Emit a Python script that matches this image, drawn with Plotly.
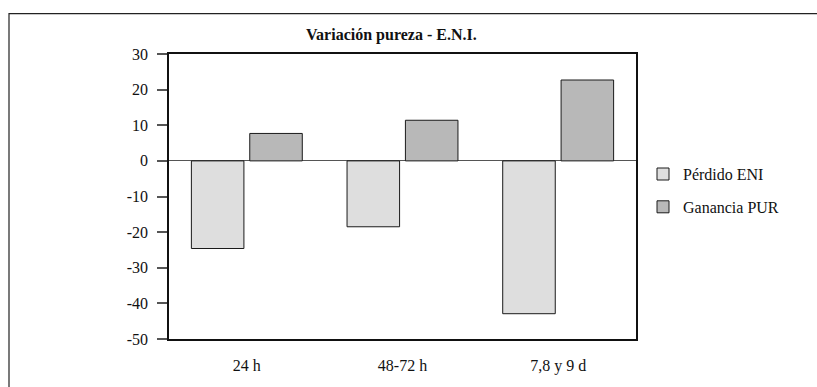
import plotly.graph_objects as go

categories = ["24 h", "48-72 h", "7,8 y 9 d"]
perdido_eni = [-24.6, -18.5, -42.9]
ganancia_pur = [7.7, 11.4, 22.7]
y_ticks = [30, 20, 10, 0, -10, -20, -30, -40, -50]
y_tick_labels = [str(v) for v in y_ticks]

FONT = "Liberation Serif"

fig = go.Figure()
fig.add_trace(go.Bar(
    x=categories, y=perdido_eni, name="Pérdido ENI",
    marker=dict(color="#DEDEDE", line=dict(color="#1a1a1a", width=1)),
    legendgroup="a",
))
fig.add_trace(go.Bar(
    x=categories, y=ganancia_pur, name="Ganancia PUR",
    marker=dict(color="#B8B8B8", line=dict(color="#1a1a1a", width=1)),
    legendgroup="b",
))

L, R, T, B = 169, 636, 54, 344
W, H = 817, 387
pw, ph = R - L, B - T

def px(X):
    return (X - L) / pw

def py(Y):
    return (B - Y) / ph

fig.update_layout(
    width=W, height=H,
    margin=dict(l=L, r=W - R, t=T, b=H - B, pad=0),
    paper_bgcolor="white", plot_bgcolor="white",
    font=dict(family=FONT, size=16, color="#111"),
    barmode="group", bargap=0.25, bargroupgap=0.1,
    showlegend=True,
    legend=dict(
        x=px(643), y=py(193), xanchor="left", yanchor="middle",
        font=dict(family=FONT, size=16, color="#111"),
        traceorder="grouped", tracegroupgap=9,
        bgcolor="rgba(0,0,0,0)",
    ),
    xaxis=dict(
        showline=True, linecolor="#111", linewidth=1.5, mirror=True,
        ticks="", showgrid=False, zeroline=False,
        ticklabelstandoff=11,
    ),
    yaxis=dict(
        range=[-50, 30], tickvals=y_ticks, ticktext=y_tick_labels,
        showline=True, linecolor="#111", linewidth=1.5, mirror=True,
        ticks="outside", ticklen=10, tickcolor="#555", tickwidth=1.5,
        showgrid=False, zeroline=True, zerolinecolor="#555", zerolinewidth=1,
        ticklabelstandoff=6,
    ),
    annotations=[dict(
        text="Variación pureza - E.N.I.",
        xref="paper", yref="paper", x=px(391), y=py(35),
        xanchor="center", yanchor="middle", showarrow=False,
        font=dict(family=FONT, size=16, color="#111", weight="bold"),
    )],
    shapes=[dict(
        type="rect", xref="paper", yref="paper",
        x0=px(9), x1=px(840), y0=py(13), y1=py(420),
        line=dict(color="#222", width=1.2), fillcolor="rgba(0,0,0,0)",
        layer="below",
    )],
)

fig.write_html("out.html")
